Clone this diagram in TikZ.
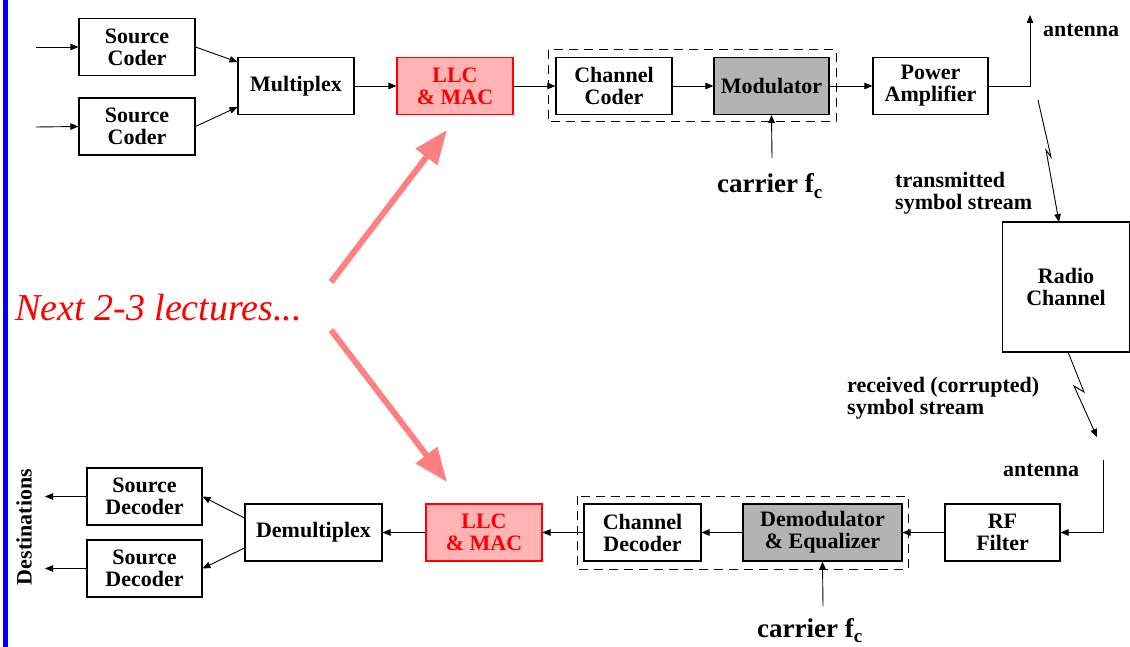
\documentclass[tikz,border=0pt]{standalone}
\usepackage{fontspec}
\setmainfont{Liberation Serif}
\usetikzlibrary{arrows.meta}
\definecolor{llcfill}{RGB}{255,179,179}
\definecolor{hintpink}{RGB}{255,128,128}
\definecolor{modgray}{RGB}{179,179,179}
\definecolor{barblue}{RGB}{0,0,255}

\begin{document}
\begin{tikzpicture}[x=1pt,y=-1pt,
  lbl/.style={font=\fontsize{22}{22}\selectfont\bfseries, align=center, inner sep=0pt},
  block/.style={lbl, draw, line width=1.1pt, minimum height=57pt},
  llc/.style={block, draw=red, fill=llcfill, text=red},
  grayblock/.style={block, fill=modgray},
  flow/.style={line width=0.9pt, -{Triangle[length=8pt,width=6.5pt]}},
  group/.style={draw, line width=1pt, dash pattern=on 9pt off 6pt},
  hint/.style={draw=hintpink, line width=6pt, -{Triangle[length=34pt,width=26pt]}},
  carrierlbl/.style={font=\fontsize{27}{27}\selectfont\bfseries, inner sep=0pt, anchor=base west}
]
% canvas
\useasboundingbox (0,0) rectangle (1130,647);
\fill[white] (0,0) rectangle (1130,647);
\fill[barblue] (3,0) rectangle (8,647);

% ---------------- transmitter chain ----------------
\draw[group] (548,50) rectangle (836,122);
\node[block, minimum width=116pt] (sc1) at (137,47) {Source\\Coder};
\node[block, minimum width=116pt] (sc2) at (137,126.5) {Source\\Coder};
\node[block, minimum width=116pt] (mux) at (296,86) {Multiplex};
\node[llc, minimum width=116pt] (llc1) at (455,86) {LLC\\\& MAC};
\node[block, minimum width=116pt] (cc) at (614,86) {Channel\\Coder};
\node[grayblock, minimum width=115pt] (mod) at (771.5,86) {Modulator};
\node[block, minimum width=115pt] (pa) at (930.5,86) {Power\\Amplifier};

\coordinate (in1) at (36,47);
\coordinate (in2) at (36,127);
\draw[flow] (in1) -- (sc1.west);
\draw[flow] (in2) -- (sc2.west);
\draw[flow] (sc1.east) -- ([yshift=24pt]mux.west);
\draw[flow] (sc2.east) -- ([yshift=-21pt]mux.west);
\draw[flow] (mux) -- (llc1);
\draw[flow] (llc1) -- (cc);
\draw[flow] (cc) -- (mod);
\draw[flow] (mod) -- (pa);

\coordinate (c1) at (772,158);
\draw[flow] (c1) -- (mod.south);
\node[carrierlbl] (car1) at (717,193) {carrier f\raisebox{-6pt}{\fontsize{19}{19}\selectfont c}};

\coordinate (ant1) at (1030,15);
\draw[flow] (pa.east) -| (ant1);
\node[lbl, anchor=base west] (ant1lbl) at (1043,37) {antenna};

% ---------------- radio channel ----------------
\node[block, minimum width=127pt, minimum height=130pt] (rc) at (1066,287) {Radio\\Channel};

\coordinate (z1a) at (1038,100);
\coordinate (z1b) at (1051,157);
\coordinate (z1c) at (1046,150);
\coordinate (z1d) at (1059,222);
\draw[flow] (z1a) -- (z1b) -- (z1c) -- (z1d);
\node[lbl, align=left, anchor=north west] (txlbl) at (895,172) {transmitted\\symbol stream};

\coordinate (z2a) at (1068,352);
\coordinate (z2b) at (1084,392);
\coordinate (z2c) at (1074,386);
\coordinate (z2d) at (1097,437);
\draw[flow] (z2a) -- (z2b) -- (z2c) -- (z2d);
\node[lbl, align=left, anchor=north west] (rxlbl) at (847,377) {received (corrupted)\\symbol stream};

% ---------------- receiver chain ----------------
\draw[group] (577,496) rectangle (908,569);
\node[block, minimum width=115pt] (rf) at (1002.5,532.5) {RF\\Filter};
\node[grayblock, minimum width=159pt] (dem) at (822.5,532.5) {Demodulator\\\& Equalizer};
\node[block, minimum width=117pt] (cd) at (642.5,532.5) {Channel\\Decoder};
\node[llc, minimum width=116pt] (llc2) at (484,532.5) {LLC\\\& MAC};
\node[block, minimum width=137pt] (demux) at (313.5,532.5) {Demultiplex};
\node[block, minimum width=115pt] (sd1) at (144.5,496.5) {Source\\Decoder};
\node[block, minimum width=115pt] (sd2) at (144.5,568.5) {Source\\Decoder};

\node[lbl, anchor=base west] (ant2lbl) at (1003,476) {antenna};
\coordinate (ant2) at (1103,460);
\draw[flow] (ant2) |- (rf.east);
\draw[flow] (rf) -- (dem);
\draw[flow] (dem) -- (cd);
\draw[flow] (cd) -- (llc2);
\draw[flow] (llc2) -- (demux);
\draw[flow] ([yshift=14.5pt]demux.west) -- (sd1.east);
\draw[flow] ([yshift=-15.5pt]demux.west) -- (sd2.east);

\coordinate (out1) at (45,496.5);
\coordinate (out2) at (45,568.5);
\draw[flow] (sd1.west) -- (out1);
\draw[flow] (sd2.west) -- (out2);
\node[lbl, rotate=90] (dest) at (24,527) {Destinations};

\coordinate (c2) at (823,606);
\draw[flow] (c2) -- (dem.south);
\node[carrierlbl] (car2) at (757,637) {carrier f\raisebox{-5pt}{\fontsize{19}{19}\selectfont c}};

% ---------------- annotation ----------------
\node[font=\fontsize{38}{38}\selectfont\itshape, text=red, inner sep=0pt, anchor=base west] (next) at (15,320) {Next 2-3 lectures...};
\coordinate (h1a) at (331,282);
\coordinate (h1b) at (447,130);
\coordinate (h2a) at (331,330);
\coordinate (h2b) at (447,482);
\draw[hint] (h1a) -- (h1b);
\draw[hint] (h2a) -- (h2b);
\end{tikzpicture}
\end{document}
